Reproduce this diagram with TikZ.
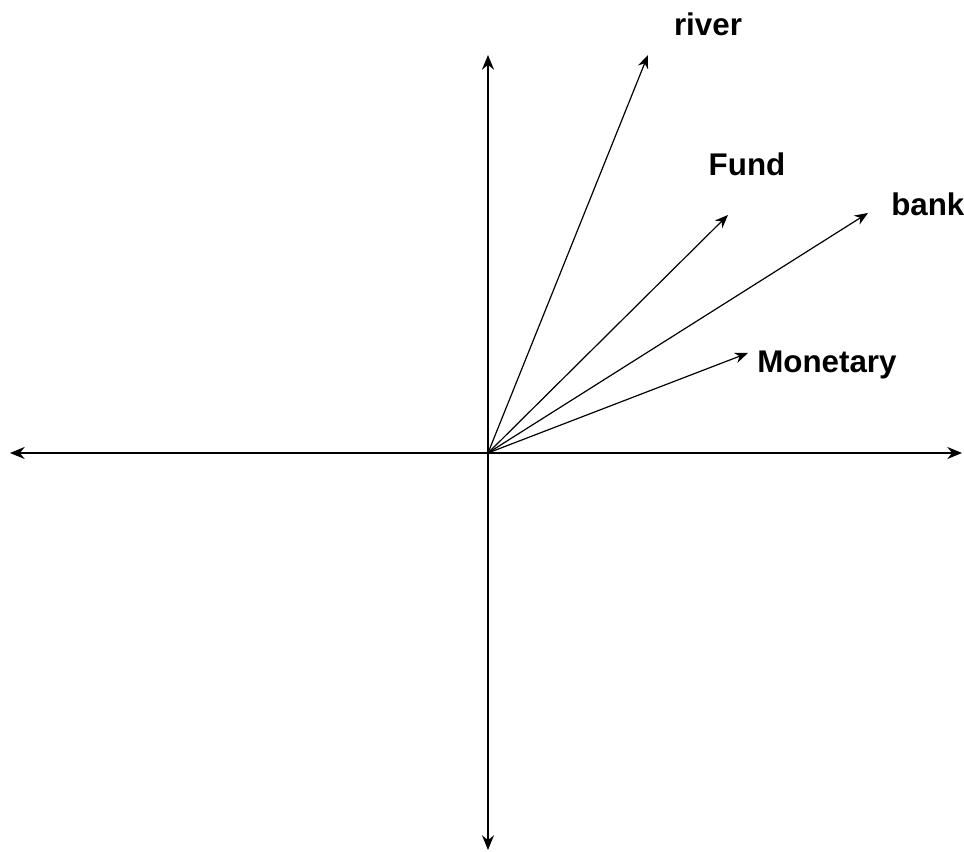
\documentclass[tikz,border=0pt]{standalone}
\usepackage{fontspec}
\setmainfont{Liberation Sans}
\usetikzlibrary{arrows.meta}

\begin{document}
\begin{tikzpicture}[x=0.75pt,y=0.75pt,
  axis/.style={line width=1.3pt,{Stealth[length=11pt,width=9pt]}-{Stealth[length=11pt,width=9pt]}},
  vec/.style={line width=0.9pt,-{Stealth[length=10pt,width=8pt]}},
  word/.style={font=\fontsize{23.5}{28}\selectfont\bfseries,inner sep=0pt}]
\useasboundingbox (-488,-399) rectangle (476,453);
\coordinate (O) at (0,0);
\coordinate (xl) at (-478,0); \coordinate (xr) at (474,0);
\coordinate (yb) at (0,-397); \coordinate (yt) at (0,398);
\draw[axis] (xl)--(xr);
\draw[axis] (yb)--(yt);
% word vectors
\coordinate (river) at (160,398);
\coordinate (fund) at (240,238);
\coordinate (bank) at (380,240);
\coordinate (monetary) at (260,100);
\draw[vec] (O)--(river);
\draw[vec] (O)--(fund);
\draw[vec] (O)--(bank);
\draw[vec] (O)--(monetary);
\node[word] (riverlbl) at (220,429) {river};
\node[word] (fundlbl) at (259,289) {Fund};
\node[word,anchor=west] (banklbl) at (403,249) {bank};
\node[word,anchor=west] (monetarylbl) at (269,88) {Monetary};
\end{tikzpicture}
\end{document}
